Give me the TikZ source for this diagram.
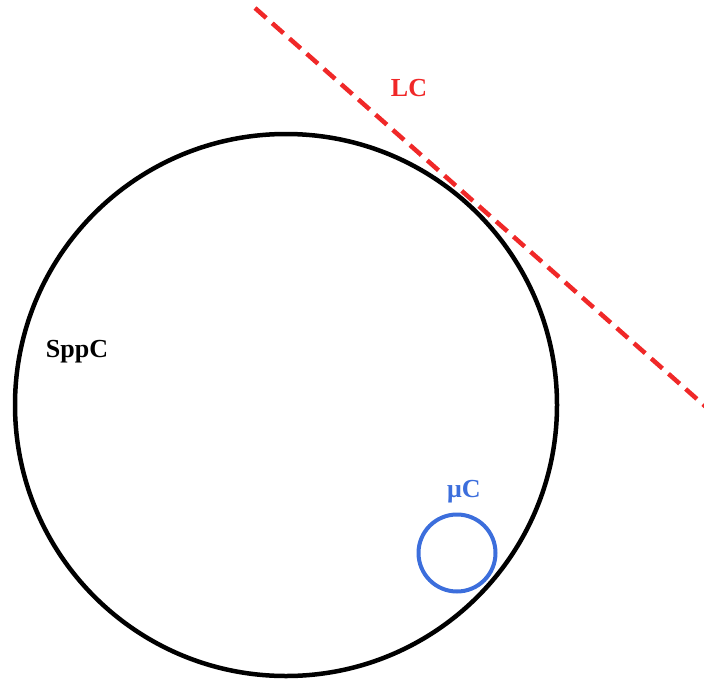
\documentclass[tikz,border=0pt]{standalone}
\usepackage{fontspec}
\setmainfont{Liberation Serif}
\usepackage{xcolor}
\usetikzlibrary{positioning}

\definecolor{lcred}{RGB}{240,40,40}
\definecolor{mublue}{RGB}{60,110,220}

\begin{document}
\begin{tikzpicture}[x=1pt, y=-1pt]
  % Styles
  \tikzset{
    bigcirc/.style={circle, draw=black, line width=4.5pt, minimum size=542pt, inner sep=0pt},
    smallcirc/.style={circle, draw=mublue, line width=4pt, minimum size=77pt, inner sep=0pt},
    lcline/.style={draw=lcred, line width=4.5pt, dash pattern=on 15pt off 8pt},
    lbl/.style={font=\bfseries\fontsize{26}{30}\selectfont, inner sep=0pt}
  }
  \useasboundingbox (0,0) rectangle (704,680);

  % Circles
  \node[bigcirc] (sppc) at (286,405) {};
  \node[smallcirc] (muc) at (457,553) {};

  % Tangent line
  \coordinate (lcstart) at (255,8);
  \coordinate (lcend) at (706,407);
  \draw[lcline] (lcstart) -- (lcend);

  % Labels
  \node[lbl, text=lcred] (lclabel) at (409,88) {LC};
  \node[lbl, text=black] (sppclabel) at (77,352) {SppC};
  \node[lbl, text=mublue] (mulabel) at (464,492) {μC};
\end{tikzpicture}
\end{document}
